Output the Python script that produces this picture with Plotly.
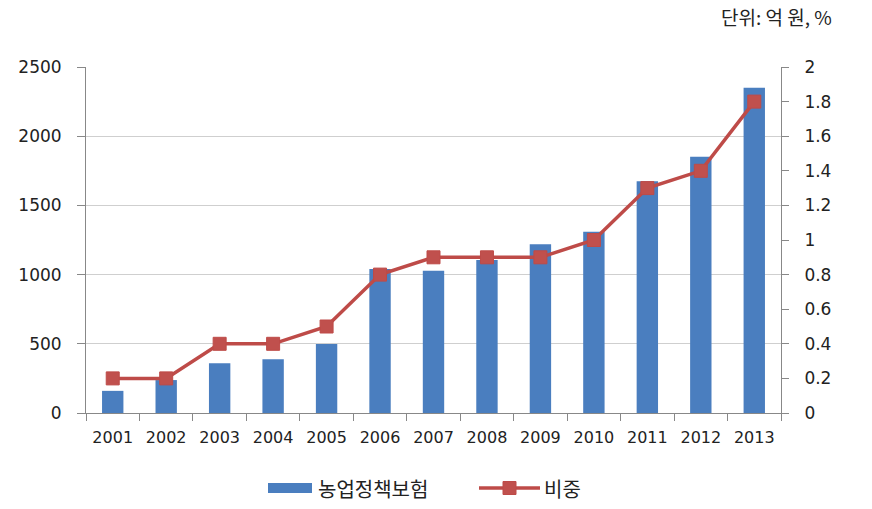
import plotly.graph_objects as go

years = ["2001", "2002", "2003", "2004", "2005", "2006", "2007",
         "2008", "2009", "2010", "2011", "2012", "2013"]
insurance = [160, 238, 360, 388, 498, 1040, 1028, 1105, 1219, 1310, 1675, 1852, 2350]
share = [0.2, 0.2, 0.4, 0.4, 0.5, 0.8, 0.9, 0.9, 0.9, 1.0, 1.3, 1.4, 1.8]

bar_name = "농업정책보험"
line_name = "비중"
unit_text = "단위: 억 원, %"

BAR_COLOR = "#4A7EBF"
LINE_COLOR = "#BE4B48"
MARK_COLOR = "#C0504D"

tick_font = dict(family="DejaVu Sans", size=17, color="#222222")
xtick_font = dict(family="DejaVu Sans", size=16, color="#222222")
kr_font = "Noto Sans CJK KR"

# plot area in pixels: left 86, right 781, top 67, bottom 413
L, R, T, B = 86, 781, 67, 413
def px(x):
    return (x - L) / (R - L)
def py(y):
    return (B - y) / (B - T)

fig = go.Figure()
fig.add_trace(go.Bar(
    x=years, y=insurance, name=bar_name,
    marker=dict(color=BAR_COLOR, line=dict(width=0)),
    yaxis="y",
))
fig.add_trace(go.Scatter(
    x=years, y=share, name=line_name, yaxis="y2",
    mode="lines+markers",
    line=dict(color=LINE_COLOR, width=3.5),
    marker=dict(symbol="square", size=13, color=MARK_COLOR,
                line=dict(color=LINE_COLOR, width=1)),
))

# custom legend (swatches + labels)
shapes = [
    dict(type="rect", xref="paper", yref="paper",
         x0=px(268), x1=px(312), y0=py(493), y1=py(483),
         fillcolor=BAR_COLOR, line=dict(width=0)),
    dict(type="line", xref="paper", yref="paper",
         x0=px(479), x1=px(540), y0=py(488), y1=py(488),
         line=dict(color=LINE_COLOR, width=3.5)),
    dict(type="rect", xref="paper", yref="paper",
         x0=px(503), x1=px(516), y0=py(494.5), y1=py(481.5),
         fillcolor=MARK_COLOR, line=dict(color=LINE_COLOR, width=1)),
]
legend_font = dict(family=kr_font, size=20, color="#222222")
annotations = [
    dict(text=bar_name, xref="paper", yref="paper", x=px(316), y=py(488),
         xanchor="left", yanchor="middle", showarrow=False, font=legend_font),
    dict(text=line_name, xref="paper", yref="paper", x=px(542), y=py(488),
         xanchor="left", yanchor="middle", showarrow=False, font=legend_font),
    dict(text=unit_text, xref="paper", yref="paper", x=px(834), y=py(16),
         xanchor="right", yanchor="middle", showarrow=False,
         font=dict(family=kr_font, size=19, color="#222222")),
]

fig.update_layout(
    width=872, height=509,
    margin=dict(l=L, r=872 - R, t=T, b=509 - B),
    paper_bgcolor="white", plot_bgcolor="white",
    bargap=0.6,
    showlegend=False,
    shapes=shapes,
    annotations=annotations,
    xaxis=dict(
        type="category", range=[-0.5, len(years) - 0.5],
        tickson="boundaries", ticks="outside", ticklen=7, tickangle=0,
        tickcolor="#888888", showline=True, linecolor="#888888", linewidth=1,
        tickfont=xtick_font, showgrid=False, ticklabelstandoff=10,
    ),
    yaxis=dict(
        range=[0, 2500], dtick=500, showgrid=True, gridcolor="#cfcfcf",
        gridwidth=1, showline=True, linecolor="#888888", linewidth=1,
        ticks="outside", ticklen=8, tickcolor="#888888",
        tickfont=tick_font, zeroline=False, ticklabelstandoff=12,
    ),
    yaxis2=dict(
        range=[0, 2], dtick=0.2, overlaying="y", side="right",
        showgrid=False, showline=True, linecolor="#888888", linewidth=1,
        ticks="outside", ticklen=7, tickcolor="#888888",
        tickfont=tick_font, zeroline=False, ticklabelstandoff=12,
    ),
)

fig.write_html("out.html")
